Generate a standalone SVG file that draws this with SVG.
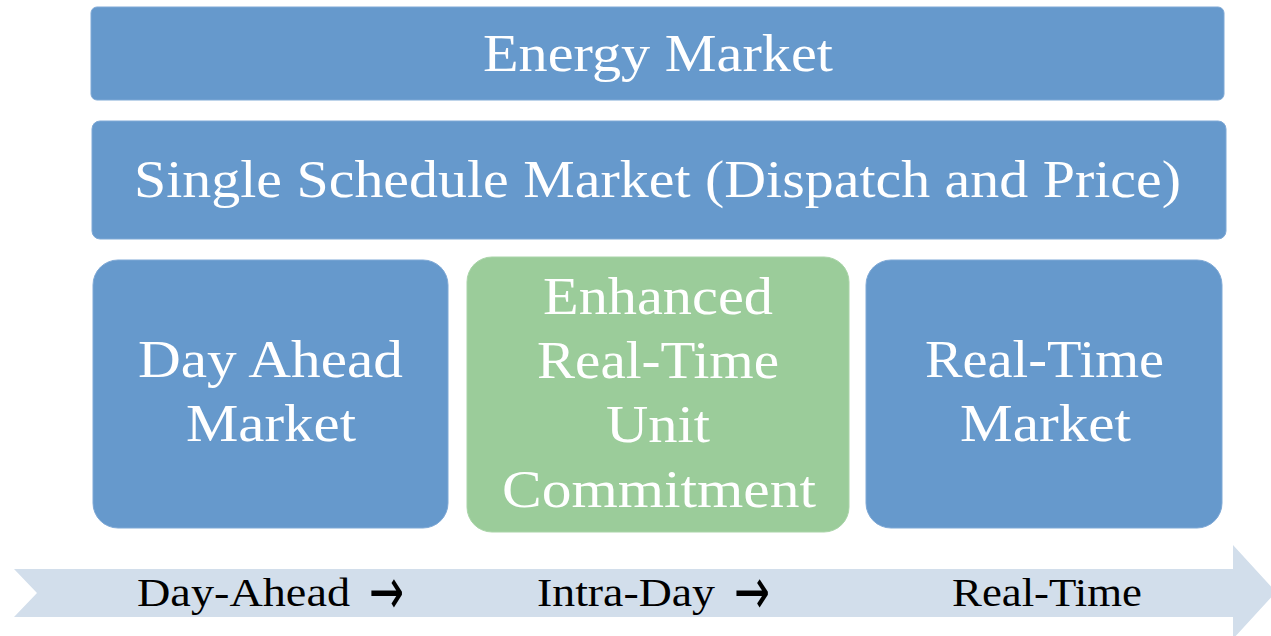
<svg xmlns="http://www.w3.org/2000/svg" width="1271" height="636" viewBox="0 0 1271 636">
<style>
.blue{fill:#6699CC;stroke:#7FA9D6;stroke-width:1}
.green{fill:#9BCC9A;stroke:#A9D4A8;stroke-width:1}
.w{font-family:"Liberation Serif",serif;font-size:52px;fill:#ffffff}
.b{font-family:"Liberation Serif",serif;font-size:41px;fill:#000000}
.arr{font-family:"DejaVu Sans",sans-serif;font-size:66px;fill:#000000}
</style>
<rect width="1271" height="636" fill="#ffffff"/>
<g id="timeline">
<polygon points="14,569 1233,569 1233,545 1276,592 1233,639 1233,617 14,617 37,593" fill="#D2DEEB"/>
<text class="b" x="137" y="606" textLength="213" lengthAdjust="spacingAndGlyphs">Day-Ahead</text>
<text class="arr" x="369" y="614" textLength="35" lengthAdjust="spacingAndGlyphs">→</text>
<text class="b" x="537" y="606" textLength="178" lengthAdjust="spacingAndGlyphs">Intra-Day</text>
<text class="arr" x="734" y="614" textLength="36" lengthAdjust="spacingAndGlyphs">→</text>
<text class="b" x="952" y="606" textLength="190" lengthAdjust="spacingAndGlyphs">Real-Time</text>
</g>
<g id="energy-market">
<rect class="blue" x="91" y="7" width="1133" height="93" rx="6"/>
<text class="w" x="483" y="71" textLength="350" lengthAdjust="spacingAndGlyphs">Energy Market</text>
</g>
<g id="single-schedule">
<rect class="blue" x="92" y="121" width="1134" height="118" rx="8"/>
<text class="w" x="134" y="197" textLength="1047" lengthAdjust="spacingAndGlyphs">Single Schedule Market (Dispatch and Price)</text>
</g>
<g id="day-ahead">
<rect class="blue" x="93" y="260" width="355" height="268" rx="25"/>
<text class="w" x="138" y="377" textLength="265" lengthAdjust="spacingAndGlyphs">Day Ahead</text>
<text class="w" x="186" y="441" textLength="170" lengthAdjust="spacingAndGlyphs">Market</text>
</g>
<g id="ertuc">
<rect class="green" x="467" y="257" width="382" height="275" rx="25"/>
<text class="w" x="543" y="314" textLength="230" lengthAdjust="spacingAndGlyphs">Enhanced</text>
<text class="w" x="537" y="378" textLength="242" lengthAdjust="spacingAndGlyphs">Real-Time</text>
<text class="w" x="606" y="442" textLength="104" lengthAdjust="spacingAndGlyphs">Unit</text>
<text class="w" x="502" y="507" textLength="314" lengthAdjust="spacingAndGlyphs">Commitment</text>
</g>
<g id="real-time">
<rect class="blue" x="866" y="260" width="356" height="268" rx="25"/>
<text class="w" x="925" y="377" textLength="239" lengthAdjust="spacingAndGlyphs">Real-Time</text>
<text class="w" x="960" y="441" textLength="171" lengthAdjust="spacingAndGlyphs">Market</text>
</g>
<g id="connectors"></g>
</svg>
